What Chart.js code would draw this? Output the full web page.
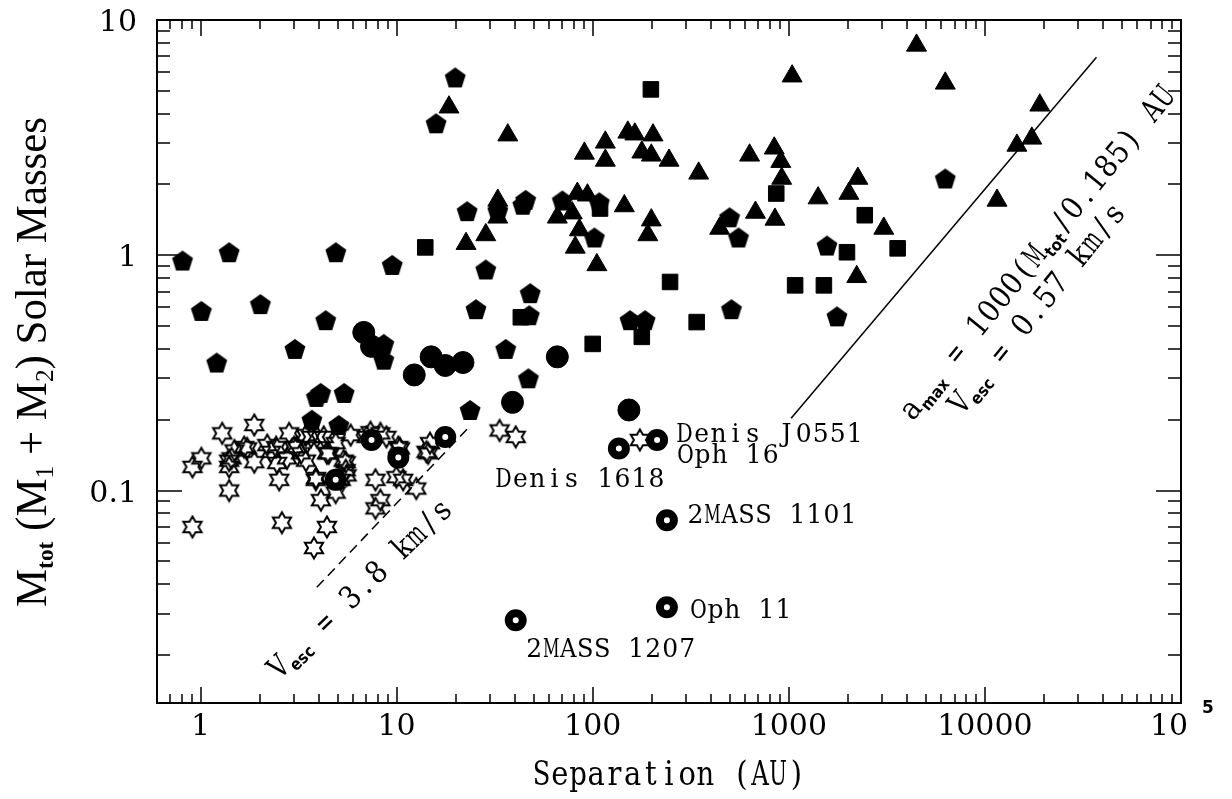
<!DOCTYPE html>
<html>
<head>
<meta charset="utf-8">
<script src="https://cdn.jsdelivr.net/npm/chart.js@4.4.1/dist/chart.umd.min.js"></script>
<style>
  html, body { margin: 0; padding: 0; background: #fff; }
  canvas { display: block; }
</style>
</head>
<body>
<canvas id="c" width="1232" height="799"></canvas>
<script>
// separation (AU), total mass (Msun)
const pentagons = [
  [0.81,0.95],[1.01,0.58],[1.40,1.03],[1.21,0.35],[2.02,0.62],[3.03,0.40],[4.9,1.03],[4.35,0.53],
  [9.5,0.91],[8.6,0.42],[8.6,0.36],[28.5,0.87],[48,0.69],[25.4,0.59],[47.5,0.556],[36,0.40],
  [47,0.30],[23.7,0.22],[510,0.59],[155,0.53],[185,0.53],[19.9,5.7],[15.9,3.64],[22.9,1.54],
  [45.5,1.72],[44,1.64],[32.8,1.55],[70,1.71],[108,1.68],[102,1.19],[499,1.45],[554,1.19],
  [6280,2.12],[1565,1.10],[1760,0.55],[4.1,0.26],[3.9,0.25],[5.4,0.26],[3.7,0.20],[5.07,0.19],
];
const triangles = [
  [18.5,4.26],[36.9,3.24],[151,3.33],[164,3.27],[203,3.24],[116,3.02],[90.7,2.71],[116,2.53],
  [178,2.74],[199,2.66],[245,2.53],[347,2.23],[631,2.66],[843,2.85],[910,2.5],[920,2.12],
  [22.6,1.12],[28.5,1.22],[32.8,1.71],[32.8,1.45],[83.5,1.83],[94,1.80],[66,1.45],[78.7,1.51],
  [85.5,1.28],[81.5,1.08],[145,1.62],[199,1.41],[191,1.22],[676,1.52],[444,1.30],[850,1.42],
  [105,0.91],[1040,5.77],[4480,7.8],[6280,5.38],[19050,4.34],[14560,2.93],[17350,3.14],
  [11530,1.71],[1410,1.75],[2250,2.12],[2025,1.83],[3050,1.30],[2220,0.81],
];
const squares = [
  [14,1.08],[198,5.07],[43,0.545],[100,0.42],[178,0.45],[248,0.77],[339,0.52],[109,1.58],
  [863,1.83],[2440,1.48],[3590,1.07],[1980,1.03],[1077,0.745],[1510,0.745],
];
const circles = [
  [6.8,0.47],[7.45,0.41],[12.3,0.31],[15,0.37],[17.7,0.34],[21.8,0.35],[66,0.37],[39,0.237],[153,0.22],
];
const stars = [
  [0.91,0.126],[1.01,0.137],[1.29,0.175],[1.44,0.137],[1.40,0.126],[1.49,0.148],[1.40,0.100],[0.91,0.070],
  [1.88,0.190],[1.67,0.153],[1.88,0.132],[2.19,0.156],[2.29,0.146],[2.46,0.131],[2.52,0.111],[2.60,0.073],
  [2.83,0.175],[2.76,0.137],[3.00,0.153],[3.45,0.172],[3.25,0.144],[3.45,0.134],[3.87,0.111],[4.11,0.091],
  [3.79,0.057],[4.41,0.070],[3.92,0.169],[4.41,0.144],[4.89,0.159],[5.50,0.132],[4.89,0.098],[5.19,0.111],
  [5.56,0.116],[5.83,0.172],[7.03,0.169],[8.27,0.175],[7.80,0.111],[8.27,0.091],[7.80,0.084],[10.2,0.153],
  [10.8,0.111],[12.6,0.102],[14.5,0.144],[14.8,0.159],[33.5,0.180],[40.5,0.169],[174,0.164],
  [1.73,0.151],[2.43,0.153],[3.10,0.153],[3.66,0.169],[4.25,0.169],[4.51,0.144],[5.37,0.134],[7.36,0.177],
  [8.87,0.169],[10.4,0.151],[9.97,0.114],[3.88,0.113],[5.50,0.122],[14.2,0.146],[1.40,0.134],
];
// brown dwarf binaries (ring symbols) and their names
const rings = [
  [4.89,0.111],[7.45,0.164],[10.2,0.138],[17.7,0.169],[136,0.151],[213,0.164],[239,0.0748],[239,0.0319],[40.5,0.0281],
];
const ringNames = ['Denis J0551','Oph 16','Denis 1618','2MASS 1101','Oph 11','2MASS 1207'];
const ringNameOf = [5, 5, 4, 6, 7, 8];   // index into rings

const vescLine = [[3.92,0.0388],[23.1,0.184]];     // Vesc = 3.8 km/s
const amaxLine = [[1028,0.203],[37070,6.94]];      // a_max relation

const xTickValues = [1, 10, 100, 1000, 10000];
const xTickLabels = ['1', '10', '100', '1000', '10000'];
const yTickValues = [0.1, 1, 10];
const yTickLabels = ['0.1', '1', '10'];

// marker images
function mk(size, draw) {
  const c = document.createElement('canvas');
  c.width = c.height = size;
  draw(c.getContext('2d'), size / 2);
  return c;
}
const pentImg = mk(26, (g, m) => {
  g.beginPath();
  for (let i = 0; i < 5; i++) {
    const a = -Math.PI / 2 + i * 2 * Math.PI / 5;
    g.lineTo(m + 11 * Math.cos(a), m + 1 + 11 * Math.sin(a));
  }
  g.closePath(); g.fillStyle = '#000'; g.fill();
});
const starImg = mk(26, (g, m) => {
  g.beginPath();
  for (let i = 0; i < 12; i++) {
    const a = -Math.PI / 2 + i * Math.PI / 6, r = i % 2 ? 6 : 10.5;
    g.lineTo(m + r * Math.cos(a), m + r * Math.sin(a));
  }
  g.closePath(); g.lineWidth = 2; g.strokeStyle = '#000'; g.stroke();
});

const pts = arr => arr.map(([x, y]) => ({x, y}));
const blk = {pointBackgroundColor: '#000', pointBorderColor: '#000', pointBorderWidth: 1};

function logTicks(min, max) {
  const out = [];
  for (let e = Math.floor(Math.log10(min)); e <= Math.ceil(Math.log10(max)); e++)
    for (let k = 1; k < 10; k++) {
      const v = k * Math.pow(10, e);
      if (v >= min * 0.999 && v <= max * 1.001) out.push({v, major: k === 1});
    }
  return out;
}

// parts: [text, font, dy, pitch]; a pitch gives typewriter spacing
function rich(ctx, parts, x, y, o) {
  ctx.save();
  ctx.translate(x, y);
  ctx.rotate(o.rot || 0);
  let w = 0;
  for (const p of parts) { ctx.font = p[1]; w += p[3] ? p[3] * p[0].length : ctx.measureText(p[0]).width; }
  const sx = o.len ? o.len / w : (o.sx || 1);
  ctx.scale(sx, o.sy || 1);
  let cx = o.align === 'center' ? -w / 2 : o.align === 'right' ? -w : 0;
  ctx.textAlign = 'left'; ctx.textBaseline = 'alphabetic'; ctx.fillStyle = '#000';
  for (const p of parts) {
    ctx.font = p[1];
    if (p[3]) {
      for (const ch of p[0]) {
        const cw = ctx.measureText(ch).width, s = Math.min(1, p[3] * 0.97 / cw);
        ctx.save();
        ctx.translate(cx + p[3] / 2, p[2] || 0);
        ctx.scale(s, 1);
        ctx.fillText(ch, -cw / 2, 0);
        ctx.restore();
        cx += p[3];
      }
    } else {
      ctx.fillText(p[0], cx, p[2] || 0);
      cx += ctx.measureText(p[0]).width;
    }
  }
  ctx.restore();
}

const SERIF = '"DejaVu Serif", serif';
const SUB = 'bold 15px "DejaVu Sans", sans-serif';

const decor = {
  id: 'decor',
  afterDraw(chart) {
    const {ctx, chartArea: a, scales: {x, y}} = chart;
    ctx.save();
    ctx.strokeStyle = '#000';
    ctx.lineWidth = 1.5;
    ctx.beginPath();
    for (const t of logTicks(x.min, x.max)) {
      const px = Math.round(x.getPixelForValue(t.v)), L = t.major ? 16 : 9;
      ctx.moveTo(px, a.bottom); ctx.lineTo(px, a.bottom - L);
      ctx.moveTo(px, a.top); ctx.lineTo(px, a.top + L);
    }
    for (const t of logTicks(y.min, y.max)) {
      const py = Math.round(y.getPixelForValue(t.v)), L = t.major ? 25 : 13;
      ctx.moveTo(a.left, py); ctx.lineTo(a.left + L, py);
      ctx.moveTo(a.right, py); ctx.lineTo(a.right - L, py);
    }
    ctx.stroke();
    ctx.lineWidth = 2;
    ctx.strokeRect(a.left, a.top, a.right - a.left, a.bottom - a.top);

    // tick labels
    ctx.fillStyle = '#000';
    ctx.font = '30px ' + SERIF;
    ctx.textBaseline = 'alphabetic';
    ctx.textAlign = 'center';
    xTickValues.forEach((v, i) => ctx.fillText(xTickLabels[i], x.getPixelForValue(v), a.bottom + 32));
    const p5 = x.getPixelForValue(1e5);
    ctx.fillText('10', p5 - 12, a.bottom + 32);
    ctx.font = 'bold 17px "DejaVu Sans", sans-serif';
    ctx.fillText('5', p5 + 27, a.bottom + 10);
    ctx.font = '30px ' + SERIF;
    ctx.textAlign = 'right';
    yTickValues.forEach((v, i) => ctx.fillText(yTickLabels[i], a.left - 20, y.getPixelForValue(v) + 11));

    // axis titles
    rich(ctx, [['Separation (AU)', '29px ' + SERIF, 0, 18.2]], (a.left + a.right) / 2, 785, {align: 'center', sy: 1.15});
    const F = '44px "Liberation Serif", serif', S = '26px "Liberation Serif", serif', SB = 'bold 24px "Liberation Serif", serif';
    rich(ctx, [['M', F], ['tot', SB, 7], [' (M', F], ['1', S, 7], [' + M', F], ['2', S, 7], [') Solar Masses', F]],
      46, 362, {rot: -Math.PI / 2, align: 'center', len: 490});

    // names of the ring points
    const dxy = [[19, 2], [20, 23], [-124, 39], [20, 3], [23, 11], [10, 37]];
    ringNames.forEach((n, i) => {
      const r = rings[ringNameOf[i]];
      const px = x.getPixelForValue(r[0]), py = y.getPixelForValue(r[1]);
      rich(ctx, [[n, '25px ' + SERIF, 0, 17]], px + dxy[i][0], py + dxy[i][1], {sy: 1.05});
    });

    // line annotations
    const T = '28px ' + SERIF, P = 18;
    const deg = Math.PI / 180;
    rich(ctx, [['V', T, 0, P], ['esc', SUB, 5], [' = 3.8 km/s', T, 0, P]],
      x.getPixelForValue(2.52), y.getPixelForValue(0.0156), {rot: -44 * deg, sy: 1.1});
    rich(ctx, [['a', T, 0, P], ['max', SUB, 5], [' = 1000(M', T, 0, P], ['tot', SUB, 5], ['/0.185) AU', T, 0, P]],
      x.getPixelForValue(4275), y.getPixelForValue(0.195), {rot: -51 * deg, sy: 1.1});
    rich(ctx, [['V', T, 0, P], ['esc', SUB, 5], [' = 0.57 km/s', T, 0, P]],
      x.getPixelForValue(7660), y.getPixelForValue(0.207), {rot: -51 * deg, sy: 1.1});
    ctx.restore();
  }
};

new Chart(document.getElementById('c'), {
  type: 'scatter',
  data: {
    datasets: [
      {label: 'rings', data: pts(rings), pointStyle: 'circle', pointRadius: 7, pointBorderWidth: 8,
        pointBackgroundColor: '#fff', pointBorderColor: '#000'},
      {label: 'stars', data: pts(stars), pointStyle: starImg, pointRadius: 10},
      {label: 'circles', data: pts(circles), pointStyle: 'circle', pointRadius: 11, ...blk},
      {label: 'pentagons', data: pts(pentagons), pointStyle: pentImg, pointRadius: 10},
      {label: 'triangles', data: pts(triangles), pointStyle: 'triangle', pointRadius: 11.5, ...blk},
      {label: 'squares', data: pts(squares), pointStyle: 'rect', pointRadius: 11, ...blk},
      {label: 'vesc', data: pts(vescLine), showLine: true, pointRadius: 0, borderColor: '#000',
        borderWidth: 1.5, borderDash: [10, 6]},
      {label: 'amax', data: pts(amaxLine), showLine: true, pointRadius: 0, borderColor: '#000', borderWidth: 1.5},
    ],
  },
  options: {
    responsive: false, animation: false, events: [],
    layout: {padding: {top: 20, right: 51, left: 0, bottom: 0}},
    plugins: {legend: {display: false}, tooltip: {enabled: false}},
    scales: {
      x: {type: 'logarithmic', min: 0.632, max: 1e5, ticks: {display: false}, grid: {display: false},
        border: {display: false}, afterFit: s => { s.height = 96; }},
      y: {type: 'logarithmic', min: 0.0125, max: 10, ticks: {display: false}, grid: {display: false},
        border: {display: false}, afterFit: s => { s.width = 157; }},
    },
  },
  plugins: [decor],
});
</script>
</body>
</html>
